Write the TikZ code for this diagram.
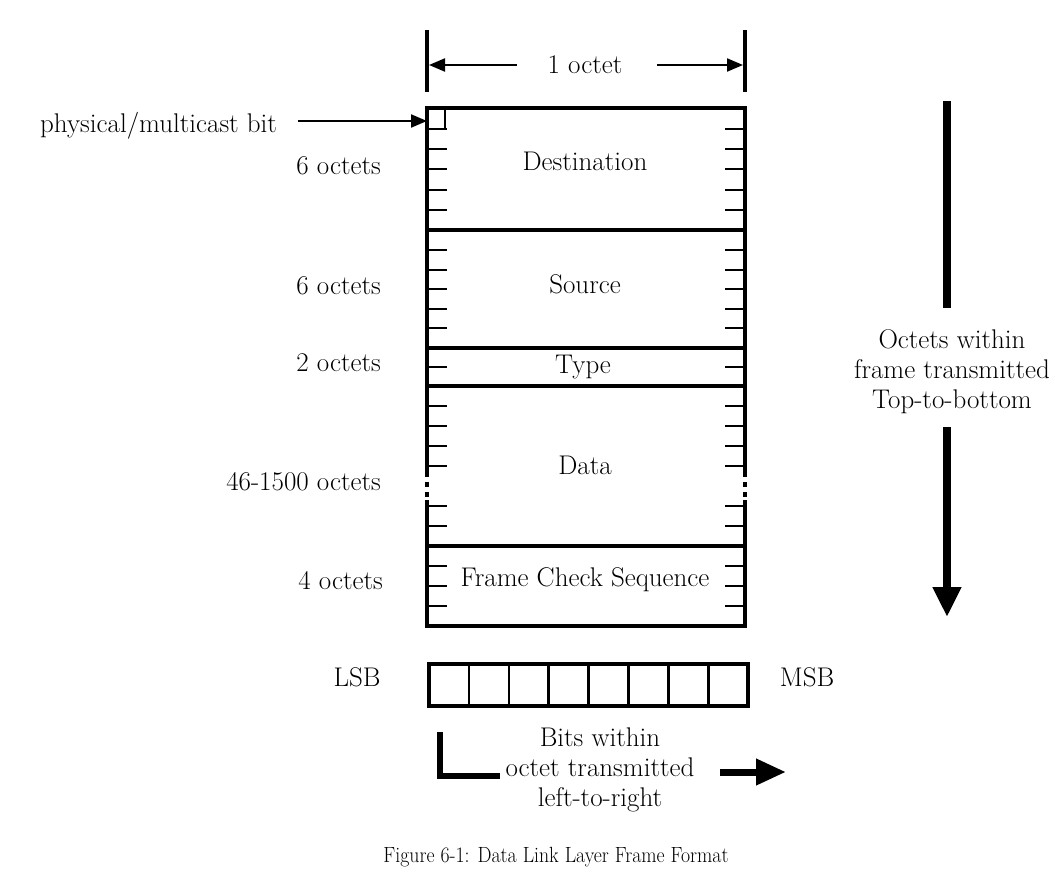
\documentclass[tikz,border=0pt]{standalone}
\usetikzlibrary{arrows.meta}
\begin{document}
\begin{tikzpicture}[x=1pt,y=-1pt,
  lbl/.style={inner sep=0pt,font=\fontsize{27}{30}\selectfont},
  lblr/.style={lbl,anchor=east},
  border/.style={line width=4pt},
  tick/.style={line width=2.4pt},
  thinarrow/.style={line width=2.2pt,-{Triangle[length=16pt,width=13pt]}},
  bar/.style={line width=3.5pt}]
\useasboundingbox (0,0) rectangle (1055,884);
\fill[white] (0,0) rectangle (1055,884);

% ---- top dimension "1 octet"
\coordinate (barL1) at (427,30); \coordinate (barL2) at (427,92);
\coordinate (barR1) at (745,30); \coordinate (barR2) at (745,92);
\draw[bar] (barL1) -- (barL2);
\draw[bar] (barR1) -- (barR2);
\node[lbl] (oct) at (585,65) {1 octet};
\coordinate (dimL) at (429,65); \coordinate (dimR) at (743,65);
\draw[thinarrow] (517,65) -- (dimL);
\draw[thinarrow] (657,65) -- (dimR);

% ---- main frame outline
\draw[border] (427,108) -- (745,108);
\draw[border] (427,626) -- (745,626);
\draw[border] (427,106) -- (427,472);
\draw[border] (427,500) -- (427,628);
\draw[border] (745,106) -- (745,472);
\draw[border] (745,500) -- (745,628);
\draw[line width=4pt,dash pattern=on 5pt off 5pt] (427,472) -- (427,502);
\draw[line width=4pt,dash pattern=on 5pt off 5pt] (745,472) -- (745,502);
% field dividers
\foreach \yy in {230,348,386,546} \draw[border] (427,\yy) -- (745,\yy);

% ticks
\foreach \yy in {129,149,169,190,210, 250,270,289,309,328, 367,
                 406,426,446,466,506,526, 566,586,606}
  {\draw[tick] (427,\yy) -- (447,\yy); \draw[tick] (725,\yy) -- (745,\yy);}
% physical/multicast bit square
\draw[line width=1.8pt] (427,129) -- (445,129) -- (445,108);

% field names
\node[lbl] (dst) at (585,161) {Destination};
\node[lbl] (src) at (585,284) {Source};
\node[lbl] (typ) at (583,367) {Type};
\node[lbl] (dat) at (585,465) {Data};
\node[lbl] (fcs) at (585,580) {Frame Check Sequence};

% left labels
\node[lblr] (l1) at (381,166) {6 octets};
\node[lblr] (l2) at (381,286) {6 octets};
\node[lblr] (l3) at (381,363) {2 octets};
\node[lblr] (l4) at (381,482) {46-1500 octets};
\node[lblr] (l5) at (383,581) {4 octets};

% physical/multicast bit
\node[lbl,anchor=west] (pm) at (40,126) {physical/multicast bit};
\coordinate (pmbit) at (427,121);
\draw[thinarrow] (298,121) -- (pmbit);

% right: octets transmitted top-to-bottom
\node[lbl,align=center] (oct2) at (952,372) {Octets within\\frame transmitted\\Top-to-bottom};
\coordinate (vtop) at (947,101); \coordinate (vmid) at (947,308);
\coordinate (vbot0) at (947,427); \coordinate (vtip) at (947,617);
\draw[line width=7.5pt] (vtop) -- (vmid);
\draw[line width=7.5pt,-{Triangle[length=30pt,width=27pt]}] (vbot0) -- (vtip);

% ---- bit box
\node[lbl] (lsb) at (357,677) {LSB};
\node[lbl] (msb) at (807,677) {MSB};
\draw[border] (429,664) rectangle (748,706);
\foreach \i in {1,...,7} \draw[line width=2.6pt] (429+\i*39.9,664) -- (429+\i*39.9,706);

% bits within octet
\node[lbl,align=center] (bits) at (600,770) {Bits within\\octet transmitted\\left-to-right};
\draw[line width=6.5pt] (440,732) -- (440,776) -- (500,776);
\coordinate (rtip) at (786,772);
\draw[line width=7pt,-{Triangle[length=30pt,width=25pt]}] (720,772) -- (rtip);

% caption
\node[inner sep=0pt,font=\fontsize{22}{26}\selectfont] (cap) at (556,857) {\scalebox{0.9}[1]{Figure 6-1: Data Link Layer Frame Format}};
\end{tikzpicture}
\end{document}
